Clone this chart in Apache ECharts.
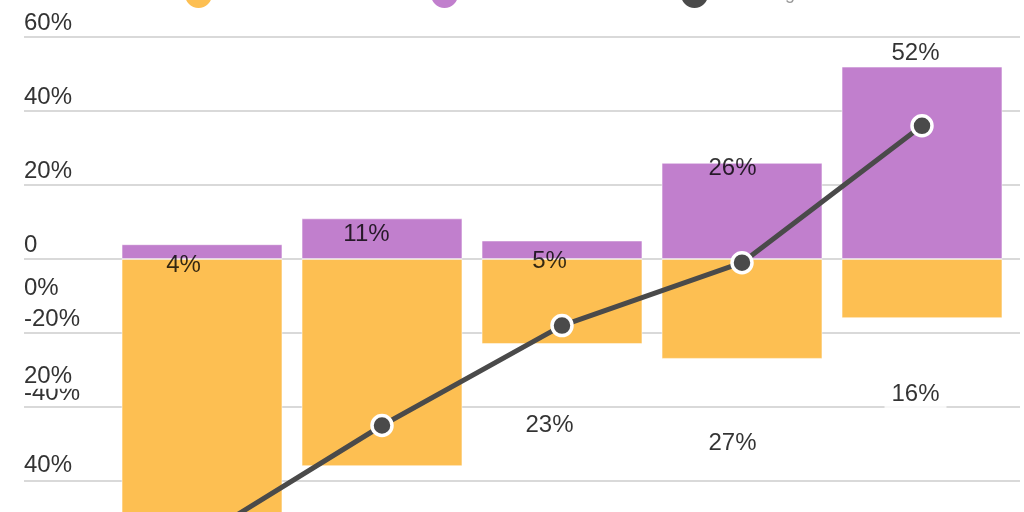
<!DOCTYPE html>
<html>
<head>
<meta charset="utf-8">
<script src="https://cdn.jsdelivr.net/npm/echarts@6/dist/echarts.min.js"></script>
<style>
    html, body {margin: 0; padding: 0; background: #fff;}
    #chart {width: 1024px; height: 512px;}
</style>
</head>
<body>
<div id="chart"></div>
<script>
// 数据
var categories = ['A', 'B', 'C', 'D', 'E'];
var seriesNames = ['Decrease', 'Increase', 'Net change'];
var negValues = [-79, -56, -23, -27, -16];
var posValues = [4, 11, 5, 26, 52];
var netValues = [-75, -45, -18, -1, 36];
var mainAxis = [-80, 60, 20];   // min, max, interval
var labelAxis = [-60, 60, 20];  // min, max, interval
var legendLeft = [180, 426, 676];

var font = 'Liberation Sans';
var chart = echarts.init(document.getElementById('chart'));

// 图例: 每项一个组件
var legends = seriesNames.map(function (name, i) {
    return {
        data: [name],
        left: legendLeft[i],
        top: -24,
        icon: 'circle',
        itemWidth: 27,
        itemHeight: 27,
        itemStyle: {borderWidth: 0},
        textStyle: {color: '#999', fontSize: 18, fontFamily: font}
    };
});

var option = {
    animation: false,
    legend: legends,
    grid: [
        {left: 24, right: 4, top: 37, height: 518, outerBoundsMode: 'none'},
        {left: 112, right: 12, top: 37, height: 518, outerBoundsMode: 'none'},
        {left: 92, right: 17, top: 18, height: 530, outerBoundsMode: 'none'}
    ],
    xAxis: [
        {gridIndex: 0, type: 'category', data: categories, show: false},
        {gridIndex: 1, type: 'category', data: categories, show: false},
        {gridIndex: 2, type: 'category', data: categories, show: false}
    ],
    yAxis: [
        {
            gridIndex: 0, type: 'value',
            min: mainAxis[0], max: mainAxis[1], interval: mainAxis[2],
            axisLine: {show: false},
            axisTick: {show: false},
            splitLine: {lineStyle: {color: '#d9d9d9', width: 2}},
            axisLabel: {
                inside: true, margin: 0, align: 'left', verticalAlign: 'bottom',
                padding: [0, 0, 2, 0],
                fontSize: 24, color: '#333', fontFamily: font,
                formatter: function (v) { return v === 0 ? '0' : v + '%'; }
            }
        },
        {
            gridIndex: 1, type: 'value', show: false,
            min: mainAxis[0], max: mainAxis[1], interval: mainAxis[2]
        },
        {
            gridIndex: 2, type: 'value',
            min: labelAxis[0], max: labelAxis[1], interval: labelAxis[2],
            axisLine: {show: false},
            axisTick: {show: false},
            splitLine: {show: false},
            axisLabel: {
                margin: 68, align: 'left', verticalAlign: 'middle',
                fontSize: 24, color: '#333', fontFamily: font,
                formatter: function (v) { return v > 0 ? '' : '{b|' + Math.abs(v) + '%}'; },
                rich: {
                    b: {
                        fontSize: 24, color: '#333', fontFamily: font,
                        backgroundColor: '#fff', padding: [11, 10, 0, 0]
                    }
                }
            }
        }
    ],
    series: [
        {
            name: seriesNames[0], type: 'bar', xAxisIndex: 1, yAxisIndex: 1,
            stack: 'total', data: negValues, barCategoryGap: '10.6%', clip: false,
            itemStyle: {color: '#fdbf52', borderColor: 'rgba(255,255,255,0.5)', borderWidth: 1}
        },
        {
            name: seriesNames[1], type: 'bar', xAxisIndex: 1, yAxisIndex: 1,
            stack: 'total', data: posValues, clip: false,
            itemStyle: {color: '#c17fcd', borderColor: 'rgba(255,255,255,0.5)', borderWidth: 1}
        },
        {
            name: seriesNames[2], type: 'line', xAxisIndex: 1, yAxisIndex: 1,
            data: netValues, symbol: 'circle', symbolSize: 20, z: 5, clip: false,
            lineStyle: {color: '#4a4a4a', width: 5},
            itemStyle: {color: '#4a4a4a', borderColor: '#fff', borderWidth: 3.5}
        },
        {
            type: 'scatter', xAxisIndex: 2, yAxisIndex: 2, silent: true, z: 10,
            data: posValues, symbolSize: 1, itemStyle: {color: 'transparent'},
            label: {
                show: true, position: 'inside',
                fontSize: 24, color: '#000', textBorderWidth: 0, fontFamily: font,
                formatter: function (p) { return p.value + '%'; }
            }
        },
        {
            type: 'scatter', xAxisIndex: 2, yAxisIndex: 2, silent: true, z: 10,
            data: negValues, symbolSize: 1, itemStyle: {color: 'transparent'},
            label: {
                show: true, position: 'inside', offset: [0, 41],
                backgroundColor: '#fff', padding: [0, 7, 10, 7],
                fontSize: 24, color: '#000', textBorderWidth: 0, fontFamily: font,
                formatter: function (p) { return Math.abs(p.value) + '%'; }
            }
        }
    ]
};
chart.setOption(option);
</script>
</body>
</html>
